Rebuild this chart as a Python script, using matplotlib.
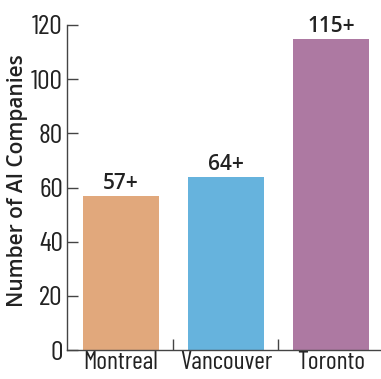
import matplotlib
matplotlib.use("Agg")
import matplotlib.pyplot as plt
from matplotlib import font_manager

cities = ["Montreal", "Vancouver", "Toronto"]
companies = [57, 64, 115]
value_labels = ["57+", "64+", "115+"]
colors = ["#E1A87C", "#66B3DD", "#AD79A2"]
yticks = [0, 20, 40, 60, 80, 100, 120]

entries = font_manager.fontManager.ttflist


def pick(cands, min_weight=0):
    for c in cands:
        for f in entries:
            w = f.weight if isinstance(f.weight, int) else 400
            if f.name == c and w >= min_weight:
                return c
    return "DejaVu Sans"


tick_font = pick(["Barlow Condensed", "Archivo Narrow", "Asap Condensed"])
head_font = pick(["Open Sans", "Lato", "Barlow"], min_weight=600)

fig = plt.figure(figsize=(3.81, 3.79), dpi=100)
ax = fig.add_axes([67 / 381, 1 - 350 / 379, 313 / 381, 325 / 379])

x = list(range(len(cities)))
bars = ax.bar(x, companies, width=0.724, color=colors, zorder=2)
for b, lab in zip(bars, value_labels):
    ax.text(b.get_x() + b.get_width() / 2, b.get_height() + 0.6, lab,
            ha="center", va="bottom", fontsize=15, fontweight="semibold",
            color="#222222", family=head_font)

ax.set_xlim(-0.514, 2.467)
ax.set_ylim(0, 120)
ax.set_yticks(yticks)
ax.set_yticklabels([str(t) for t in yticks], family=tick_font, fontsize=20,
                   color="#222222")
ax.set_xticks(x)
ax.set_xticklabels(cities, family=tick_font, fontsize=18.5, color="#222222")
ax.set_xticks([0.5, 1.5], minor=True)

for s in ["top", "right"]:
    ax.spines[s].set_visible(False)
for s in ["left", "bottom"]:
    ax.spines[s].set_color("#444444")
    ax.spines[s].set_linewidth(1.0)

ax.tick_params(axis="y", direction="in", length=8, width=1, color="#444444", pad=3)
ax.tick_params(axis="x", which="major", length=0, pad=1)
ax.tick_params(axis="x", which="minor", direction="in", length=8, width=1,
               color="#444444")

ax.set_ylabel("Number of AI Companies", fontsize=15, fontweight="semibold",
              family=head_font, color="#222222", labelpad=2)
ax.yaxis.label.set_y(0.52)

fig.savefig("out.png", dpi=100)
